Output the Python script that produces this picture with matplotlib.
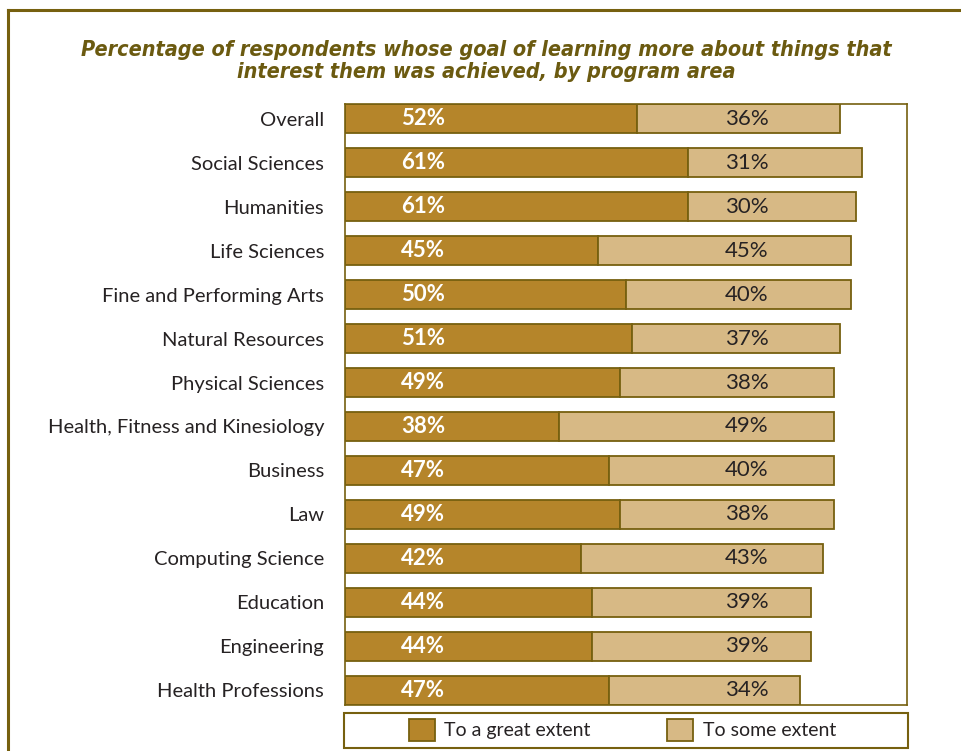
import matplotlib
matplotlib.use("Agg")
import matplotlib.pyplot as plt
from matplotlib.lines import Line2D
from matplotlib.patches import Rectangle

# program areas, top to bottom
areas = ["Overall", "Social Sciences", "Humanities", "Life Sciences",
         "Fine and Performing Arts", "Natural Resources", "Physical Sciences",
         "Health, Fitness and Kinesiology", "Business", "Law",
         "Computing Science", "Education", "Engineering", "Health Professions"]
great = [52, 61, 61, 45, 50, 51, 49, 38, 47, 49, 42, 44, 44, 47]
some = [36, 31, 30, 45, 40, 37, 38, 49, 40, 38, 43, 39, 39, 34]
series_names = ["To a great extent", "To some extent"]

dark = "#B5852A"
light = "#D7B985"
edge = "#76600F"
olive = "#6B5A10"
txt = "#262223"

plt.rcParams["font.family"] = ["Lato", "DejaVu Sans"]

W, H = 961, 751
fig = plt.figure(figsize=(W / 100, H / 100), dpi=100)

# outer border (top and left)
fig.add_artist(Line2D([8 / W, 1], [1 - 10 / H, 1 - 10 / H], color=edge, lw=2.2))
fig.add_artist(Line2D([8 / W, 8 / W], [0, 1 - 10 / H], color=edge, lw=2.2))

fig.text(486 / W, 1 - 61 / H,
         "Percentage of respondents whose goal of learning more about things that\n"
         "interest them was achieved, by program area",
         ha="center", va="center", fontsize=15.5, fontweight="bold",
         fontstyle="italic", fontstretch="condensed",
         family=["DejaVu Sans"], color=olive, linespacing=1.08)

ax = fig.add_axes([345 / W, 1 - 705 / H, 562 / W, 601 / H])
y = list(range(len(areas)))
b1 = ax.barh(y, great, height=0.64, color=dark, edgecolor=edge, linewidth=1.3,
             label=series_names[0])
b2 = ax.barh(y, some, left=great, height=0.64, color=light, edgecolor=edge,
             linewidth=1.3, label=series_names[1])

for i in y:
    ax.text(13.9, i, f"{great[i]}%", ha="center", va="center", color="white",
            fontsize=16, fontweight="bold")
    ax.text(71.5, i, f"{some[i]}%", ha="center", va="center", color=txt,
            fontsize=16)

ax.set_xlim(0, 100)
ax.set_ylim(len(areas) - 1 + 0.33, -0.33)
ax.set_yticks(y)
ax.set_yticklabels(areas, fontsize=14.5, color=txt)
ax.set_xticks([])
ax.tick_params(axis="y", length=0, pad=15)
for s in ax.spines.values():
    s.set_color(edge)
    s.set_linewidth(1.2)

# legend box
fig.add_artist(Rectangle((344 / W, 1 - 748 / H), 564 / W, 35 / H,
                         transform=fig.transFigure, fill=False,
                         edgecolor=edge, lw=1.5))
fig.legend(handles=[b1, b2], loc="center left",
           bbox_to_anchor=(391 / W, 1 - 730 / H), ncol=2, frameon=False,
           fontsize=14, handlelength=1.35, handleheight=1.4,
           handletextpad=0.5, columnspacing=3.9, labelcolor=txt)

fig.savefig("out.png", dpi=100)
